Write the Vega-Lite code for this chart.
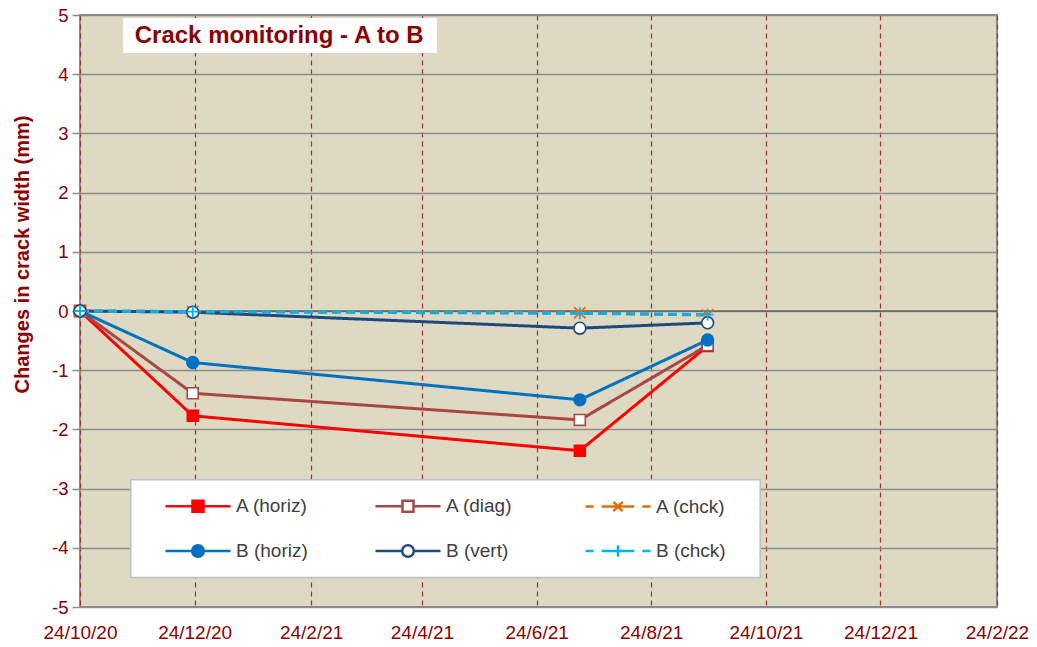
{
  "$schema": "https://vega.github.io/schema/vega-lite/v6.json",
  "width": 917,
  "height": 592,
  "autosize": "none",
  "padding": {"left": 80, "top": 15, "right": 40, "bottom": 40},
  "background": "white",
  "config": {
    "font": "Liberation Sans",
    "view": {"fill": "#DDD9C3", "stroke": "#8C8C8C", "strokeWidth": 2}
  },
  "datasets": {
    "obs": [
      {"series": "A (horiz)", "date": "2020-10-24", "value": 0},
      {"series": "A (horiz)", "date": "2020-12-23", "value": -1.77},
      {"series": "A (horiz)", "date": "2021-07-17", "value": -2.36},
      {"series": "A (horiz)", "date": "2021-09-23", "value": -0.59},
      {"series": "A (diag)", "date": "2020-10-24", "value": 0},
      {"series": "A (diag)", "date": "2020-12-23", "value": -1.39},
      {"series": "A (diag)", "date": "2021-07-17", "value": -1.84},
      {"series": "A (diag)", "date": "2021-09-23", "value": -0.58},
      {"series": "A (chck)", "date": "2020-10-24", "value": 0},
      {"series": "A (chck)", "date": "2020-12-23", "value": -0.01},
      {"series": "A (chck)", "date": "2021-07-17", "value": -0.03},
      {"series": "A (chck)", "date": "2021-09-23", "value": -0.07},
      {"series": "B (horiz)", "date": "2020-10-24", "value": 0},
      {"series": "B (horiz)", "date": "2020-12-23", "value": -0.87},
      {"series": "B (horiz)", "date": "2021-07-17", "value": -1.5},
      {"series": "B (horiz)", "date": "2021-09-23", "value": -0.49},
      {"series": "B (vert)", "date": "2020-10-24", "value": 0},
      {"series": "B (vert)", "date": "2020-12-23", "value": -0.02},
      {"series": "B (vert)", "date": "2021-07-17", "value": -0.29},
      {"series": "B (vert)", "date": "2021-09-23", "value": -0.2},
      {"series": "B (chck)", "date": "2020-10-24", "value": 0},
      {"series": "B (chck)", "date": "2020-12-23", "value": -0.01},
      {"series": "B (chck)", "date": "2021-07-17", "value": -0.04},
      {"series": "B (chck)", "date": "2021-09-23", "value": -0.06}
    ]
  },
  "layer": [
    {
      "data": {"values": [{}]},
      "mark": {"type": "rect", "fill": "white"},
      "encoding": {
        "x": {"datum": {"year": 2020, "month": 11, "date": 16, "utc": true}, "type": "temporal"},
        "x2": {"datum": {"year": 2021, "month": 5, "date": 2, "utc": true}},
        "y": {"datum": 4.95, "type": "quantitative"},
        "y2": {"datum": 4.36}
      }
    },
    {
      "data": {"values": [{}]},
      "mark": {"type": "text", "text": "Crack monitoring - A to B", "font": "Liberation Sans", "fontSize": 24, "fontWeight": "bold", "color": "#8B0000", "align": "center", "baseline": "middle"},
      "encoding": {
        "x": {"datum": {"year": 2021, "month": 2, "date": 7, "utc": true}, "type": "temporal"},
        "y": {"datum": 4.64, "type": "quantitative"}
      }
    },
    {
      "data": {"values": [{}]},
      "mark": {"type": "rect", "fill": "white", "stroke": "#BFBFBF", "strokeWidth": 1.5},
      "encoding": {
        "x": {"datum": {"year": 2020, "month": 11, "date": 20, "utc": true}, "type": "temporal"},
        "x2": {"datum": {"year": 2021, "month": 10, "date": 21, "utc": true}},
        "y": {"datum": -2.85, "type": "quantitative"},
        "y2": {"datum": -4.5}
      }
    },
    {
      "data": {"values": [{}]},
      "mark": {"type": "rule", "color": "#404040", "strokeWidth": 1},
      "encoding": {
        "y": {"datum": 0, "type": "quantitative"}
      }
    },
    {
      "data": {"name": "obs"},
      "transform": [{"filter": "indexof(datum.series, 'chck') < 0"}],
      "mark": {"type": "line", "strokeWidth": 3},
      "encoding": {
        "x": {
          "field": "date", "type": "temporal",
          "scale": {"type": "utc", "domain": [{"year": 2020, "month": 10, "date": 24, "utc": true}, {"year": 2022, "month": 2, "date": 24, "utc": true}]},
          "axis": {
            "title": null,
            "values": [
              {"year": 2020, "month": 10, "date": 24, "utc": true},
              {"year": 2020, "month": 12, "date": 24, "utc": true},
              {"year": 2021, "month": 2, "date": 24, "utc": true},
              {"year": 2021, "month": 4, "date": 24, "utc": true},
              {"year": 2021, "month": 6, "date": 24, "utc": true},
              {"year": 2021, "month": 8, "date": 24, "utc": true},
              {"year": 2021, "month": 10, "date": 24, "utc": true},
              {"year": 2021, "month": 12, "date": 24, "utc": true},
              {"year": 2022, "month": 2, "date": 24, "utc": true}
            ],
            "format": "%-d/%-m/%y",
            "labelFontSize": 19,
            "labelColor": "#8B0000",
            "labelPadding": 16,
            "labelOverlap": false,
            "labelFlush": false,
            "ticks": false,
            "domain": false,
            "grid": true,
            "gridColor": "#A0302E",
            "gridDash": [5, 4],
            "gridWidth": 1.2
          }
        },
        "y": {
          "field": "value", "type": "quantitative",
          "scale": {"domain": [-5, 5], "nice": false, "zero": false},
          "axis": {
            "title": "Changes in crack width (mm)",
            "titleFontSize": 20,
            "titleFontWeight": "bold",
            "titleColor": "#8B0000",
            "titleX": -58,
            "titleY": 239,
            "titleAngle": 270,
            "titleAlign": "center",
            "titleBaseline": "middle",
            "values": [-5, -4, -3, -2, -1, 0, 1, 2, 3, 4, 5],
            "labelExpr": "'' + datum.value",
            "labelFontSize": 18.5,
            "labelColor": "#8B0000",
            "labelPadding": 4,
            "tickColor": "#8C8C8C",
            "tickSize": 8,
            "tickWidth": 1.5,
            "domain": false,
            "grid": true,
            "gridColor": "#8C8C8C",
            "gridWidth": 1.5
          }
        },
        "color": {
          "field": "series", "type": "nominal",
          "scale": {
            "domain": ["A (horiz)", "A (diag)", "A (chck)", "B (horiz)", "B (vert)", "B (chck)"],
            "range": ["#FF0000", "#AA4643", "#E46C0A", "#0070C0", "#1F497D", "#00B0F0"]
          },
          "legend": {
            "title": null,
            "orient": "none",
            "legendX": 84,
            "legendY": 457,
            "columns": 3,
            "direction": "horizontal",
            "gridAlign": "all",
            "padding": 0,
            "columnPadding": 62,
            "rowPadding": -12,
            "labelFont": "Liberation Sans",
            "labelFontSize": 19,
            "labelColor": "#404040",
            "labelOffset": 4,
            "symbolSize": 4225,
            "symbolStrokeWidth": 2.5
          }
        },
        "strokeDash": {
          "field": "series", "type": "nominal", "legend": null,
          "scale": {
            "domain": ["A (chck)", "B (chck)", "A (horiz)", "A (diag)", "B (horiz)", "B (vert)"],
            "range": [[9, 5], [9, 5], [1, 0], [1, 0], [1, 0], [1, 0]]
          }
        }
      }
    },
    {
      "data": {"name": "obs"},
      "transform": [{"filter": "indexof(datum.series, 'chck') >= 0"}],
      "mark": {"type": "line", "strokeWidth": 3},
      "encoding": {
        "x": {"field": "date", "type": "temporal"},
        "y": {"field": "value", "type": "quantitative"},
        "color": {"field": "series", "type": "nominal"},
        "strokeDash": {"field": "series", "type": "nominal", "legend": null}
      }
    },
    {
      "data": {"name": "obs"},
      "transform": [{"filter": "false"}],
      "mark": {"type": "point", "opacity": 1, "fillOpacity": 1},
      "encoding": {
        "x": {"field": "date", "type": "temporal"},
        "y": {"field": "value", "type": "quantitative"},
        "shape": {
          "field": "series", "type": "nominal",
          "scale": {
            "domain": ["A (horiz)", "A (diag)", "A (chck)", "B (horiz)", "B (vert)", "B (chck)"],
            "range": [
              "M-1,0H1M-0.17,-0.17H0.17V0.17H-0.17Z",
              "M-1,0H-0.17M0.17,0H1M-0.17,-0.17H0.17V0.17H-0.17Z",
              "M-1,0H-0.75M-0.5,0H0.5M0.75,0H1M-0.14,-0.14L0.14,0.14M-0.14,0.14L0.14,-0.14",
              "M-1,0H1M0.18,0A0.18,0.18,0,1,1,-0.18,0A0.18,0.18,0,1,1,0.18,0Z",
              "M-1,0H-0.18M0.18,0H1M0.18,0A0.18,0.18,0,1,1,-0.18,0A0.18,0.18,0,1,1,0.18,0Z",
              "M-1,0H-0.75M-0.5,0H0.5M0.75,0H1M0,-0.18V0.18"
            ]
          }
        },
        "fill": {
          "field": "series", "type": "nominal",
          "scale": {
            "domain": ["A (horiz)", "A (diag)", "A (chck)", "B (horiz)", "B (vert)", "B (chck)"],
            "range": ["#FF0000", "#FFFFFF", "transparent", "#0070C0", "#FFFFFF", "transparent"]
          }
        }
      }
    },
    {
      "data": {"name": "obs"},
      "transform": [{"filter": "datum.series == 'A (horiz)'"}],
      "mark": {"type": "point", "shape": "square", "size": 120, "fill": "#FF0000", "stroke": "#FF0000", "strokeWidth": 1.5, "opacity": 1},
      "encoding": {"x": {"field": "date", "type": "temporal"}, "y": {"field": "value", "type": "quantitative"}}
    },
    {
      "data": {"name": "obs"},
      "transform": [{"filter": "datum.series == 'A (diag)'"}],
      "mark": {"type": "point", "shape": "square", "size": 120, "fill": "#FFFFFF", "stroke": "#AA4643", "strokeWidth": 1.6, "opacity": 1},
      "encoding": {"x": {"field": "date", "type": "temporal"}, "y": {"field": "value", "type": "quantitative"}}
    },
    {
      "data": {"name": "obs"},
      "transform": [{"filter": "datum.series == 'A (chck)'"}],
      "mark": {"type": "point", "shape": "M-1,-1L1,1M-1,1L1,-1", "size": 130, "fill": "transparent", "stroke": "#E46C0A", "strokeWidth": 1.8, "opacity": 1},
      "encoding": {"x": {"field": "date", "type": "temporal"}, "y": {"field": "value", "type": "quantitative"}}
    },
    {
      "data": {"name": "obs"},
      "transform": [{"filter": "datum.series == 'B (horiz)'"}],
      "mark": {"type": "point", "shape": "circle", "size": 140, "fill": "#0070C0", "stroke": "#0070C0", "strokeWidth": 1.5, "opacity": 1},
      "encoding": {"x": {"field": "date", "type": "temporal"}, "y": {"field": "value", "type": "quantitative"}}
    },
    {
      "data": {"name": "obs"},
      "transform": [{"filter": "datum.series == 'B (vert)'"}],
      "mark": {"type": "point", "shape": "circle", "size": 140, "fill": "#FFFFFF", "stroke": "#1F497D", "strokeWidth": 1.6, "opacity": 1},
      "encoding": {"x": {"field": "date", "type": "temporal"}, "y": {"field": "value", "type": "quantitative"}}
    },
    {
      "data": {"name": "obs"},
      "transform": [{"filter": "datum.series == 'B (chck)'"}],
      "mark": {"type": "point", "shape": "M-1,0L1,0M0,-1L0,1", "size": 140, "fill": "transparent", "stroke": "#00B0F0", "strokeWidth": 1.8, "opacity": 1},
      "encoding": {"x": {"field": "date", "type": "temporal"}, "y": {"field": "value", "type": "quantitative"}}
    }
  ]
}
